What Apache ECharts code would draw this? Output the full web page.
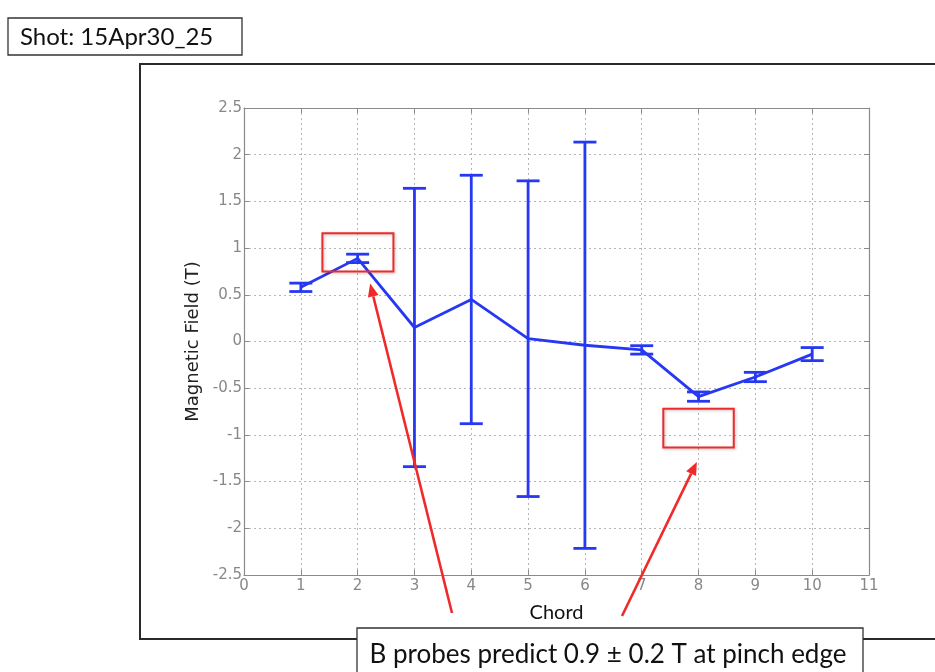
<!DOCTYPE html>
<html>
<head>
<meta charset="utf-8">
<title>Shot: 15Apr30_25</title>
<script src="https://cdn.jsdelivr.net/npm/echarts@6/dist/echarts.min.js"></script>
<style>
  html, body { margin: 0; padding: 0; background: #fff; }
  #chart { width: 935px; height: 672px; }
</style>
</head>
<body>
<div id="chart"></div>
<script>
// Chord-resolved magnetic field with uncertainty
const chords = [1, 2, 3, 4, 5, 6, 7, 8, 9, 10];
const fieldMean = [0.58, 0.89, 0.15, 0.45, 0.03, -0.04, -0.09, -0.59, -0.38, -0.135];
const fieldErr = [0.045, 0.045, 1.49, 1.33, 1.69, 2.175, 0.045, 0.05, 0.05, 0.07];

const xTicks = [0, 1, 2, 3, 4, 5, 6, 7, 8, 9, 10, 11];
const yTicks = [-2.5, -2, -1.5, -1, -0.5, 0, 0.5, 1, 1.5, 2, 2.5];

// Highlight rectangles in data units: [x1, y1, x2, y2]
const highlightBoxes = [
  [1.38, 1.16, 2.63, 0.75],
  [7.38, -0.72, 8.62, -1.135]
];
// Arrow tips in data units
const arrowTips = [[2.22, 0.62], [7.97, -1.29]];

const shotTitle = 'Shot: 15Apr30_25';
const noteText = 'B probes predict 0.9 \u00b1 0.2 T at pinch edge';

const blue = '#2638f2';
const red = '#f02a2a';
const axisGray = '#8a8a8a';

const chart = echarts.init(document.getElementById('chart'), null, { renderer: 'canvas' });

const errData = chords.map((c, i) => [c, fieldMean[i], fieldErr[i]]);
const lineData = chords.map((c, i) => [c, fieldMean[i]]);

const fmt = v => String(Math.round(v * 10) / 10);
const tickLabel = (margin) => ({
  show: true, margin: margin, formatter: fmt,
  textStyle: { color: '#888', fontFamily: 'DejaVu Sans', fontSize: 15 },
  color: '#888', fontFamily: 'DejaVu Sans', fontSize: 15
});

const axisCommon = {
  axisLine: { show: true, onZero: false, lineStyle: { color: axisGray, width: 1.2 } },
  axisTick: { show: true, inside: true, length: 5, lineStyle: { color: axisGray } }
};

chart.setOption({
  animation: false,
  textStyle: { fontFamily: 'DejaVu Sans' },
  grid: { left: 244, right: 66, top: 108, bottom: 97, containLabel: false },
  xAxis: [
    Object.assign({
      type: 'value', min: xTicks[0], max: xTicks[xTicks.length - 1], interval: 1,
      name: 'Chord', nameLocation: 'middle', nameGap: 28,
      nameTextStyle: { fontFamily: 'Lato', fontSize: 20, color: '#111' },
      axisLabel: tickLabel(4),
      splitLine: { show: true, lineStyle: { color: '#b5b5b5', type: [2, 3], width: 1 } }
    }, axisCommon),
    Object.assign({
      type: 'value', position: 'top', min: xTicks[0], max: xTicks[xTicks.length - 1], interval: 1,
      axisLabel: { show: false }, splitLine: { show: false }
    }, axisCommon)
  ],
  yAxis: [
    Object.assign({
      type: 'value', min: yTicks[0], max: yTicks[yTicks.length - 1], interval: 0.5,
      name: 'Magnetic Field (T)', nameLocation: 'middle', nameGap: 37, nameRotate: 90,
      nameTextStyle: { fontFamily: 'DejaVu Sans', fontSize: 18, color: '#222' },
      axisLabel: tickLabel(2),
      splitLine: { show: true, lineStyle: { color: '#b5b5b5', type: [2, 3], width: 1 } }
    }, axisCommon),
    Object.assign({
      type: 'value', position: 'right', min: yTicks[0], max: yTicks[yTicks.length - 1], interval: 0.5,
      axisLabel: { show: false }, splitLine: { show: false }
    }, axisCommon)
  ],
  series: [
    {
      name: 'mean',
      type: 'line',
      data: lineData,
      symbol: 'none',
      lineStyle: { color: blue, width: 2.8 },
      z: 3
    },
    {
      name: 'error',
      type: 'custom',
      data: errData,
      encode: { x: 0, y: 1 },
      z: 4,
      renderItem: function (params, api) {
        const x = api.value(0), m = api.value(1), e = api.value(2);
        const hi = api.coord([x, m + e]);
        const lo = api.coord([x, m - e]);
        const hw = 11.5;
        const style = { stroke: blue, lineWidth: 2.8 };
        return {
          type: 'group',
          children: [
            { type: 'line', shape: { x1: hi[0], y1: hi[1], x2: lo[0], y2: lo[1] }, style: style },
            { type: 'line', shape: { x1: hi[0] - hw, y1: hi[1], x2: hi[0] + hw, y2: hi[1] }, style: style },
            { type: 'line', shape: { x1: lo[0] - hw, y1: lo[1], x2: lo[0] + hw, y2: lo[1] }, style: style }
          ]
        };
      }
    },
    {
      name: 'highlight',
      type: 'custom',
      data: highlightBoxes,
      encode: { x: [0, 2], y: [1, 3] },
      z: 5,
      renderItem: function (params, api) {
        const a = api.coord([api.value(0), api.value(1)]);
        const b = api.coord([api.value(2), api.value(3)]);
        return {
          type: 'rect',
          shape: { x: Math.min(a[0], b[0]), y: Math.min(a[1], b[1]), width: Math.abs(b[0] - a[0]), height: Math.abs(b[1] - a[1]) },
          style: { fill: 'none', stroke: red, lineWidth: 2, shadowBlur: 3, shadowColor: 'rgba(0,0,0,0.25)', shadowOffsetX: 1, shadowOffsetY: 1 }
        };
      }
    }
  ]
});

// Annotation frame, captions and arrows
function arrow(tail, tip) {
  const dx = tip[0] - tail[0], dy = tip[1] - tail[1];
  const len = Math.sqrt(dx * dx + dy * dy);
  const ux = dx / len, uy = dy / len;
  const headLen = 13, headHalf = 5.5;
  const bx = tip[0] - ux * headLen, by = tip[1] - uy * headLen;
  return [
    { type: 'line', z: 20, shape: { x1: tail[0], y1: tail[1], x2: bx, y2: by }, style: { stroke: red, lineWidth: 2.6 } },
    { type: 'polygon', z: 20, shape: { points: [[tip[0], tip[1]], [bx - uy * headHalf, by + ux * headHalf], [bx + uy * headHalf, by - ux * headHalf]] }, style: { fill: red } }
  ];
}

const tails = [[452, 613], [622, 616]];
const tipPx = arrowTips.map(t => chart.convertToPixel({ xAxisIndex: 0, yAxisIndex: 0 }, t));

chart.setOption({
  graphic: [
    { type: 'rect', z: 1, silent: true, shape: { x: 140, y: 64, width: 820, height: 575 }, style: { fill: 'none', stroke: '#2a2a2a', lineWidth: 2 } },
    { type: 'rect', z: 10, shape: { x: 8, y: 18, width: 234, height: 37 }, style: { fill: '#fff', stroke: '#333', lineWidth: 1.3 } },
    { type: 'text', z: 11, x: 20, y: 37, style: { text: shotTitle, font: '24px Lato', fill: '#111', textVerticalAlign: 'middle' } },
    { type: 'rect', z: 10, shape: { x: 357, y: 628, width: 506, height: 60 }, style: { fill: '#fff', stroke: '#333', lineWidth: 1.3 } },
    { type: 'text', z: 11, x: 608, y: 655, style: { text: noteText, font: '26px Lato', fill: '#111', textAlign: 'center', textVerticalAlign: 'middle' } }
  ].concat(arrow(tails[0], tipPx[0]), arrow(tails[1], tipPx[1]))
});
</script>
</body>
</html>
